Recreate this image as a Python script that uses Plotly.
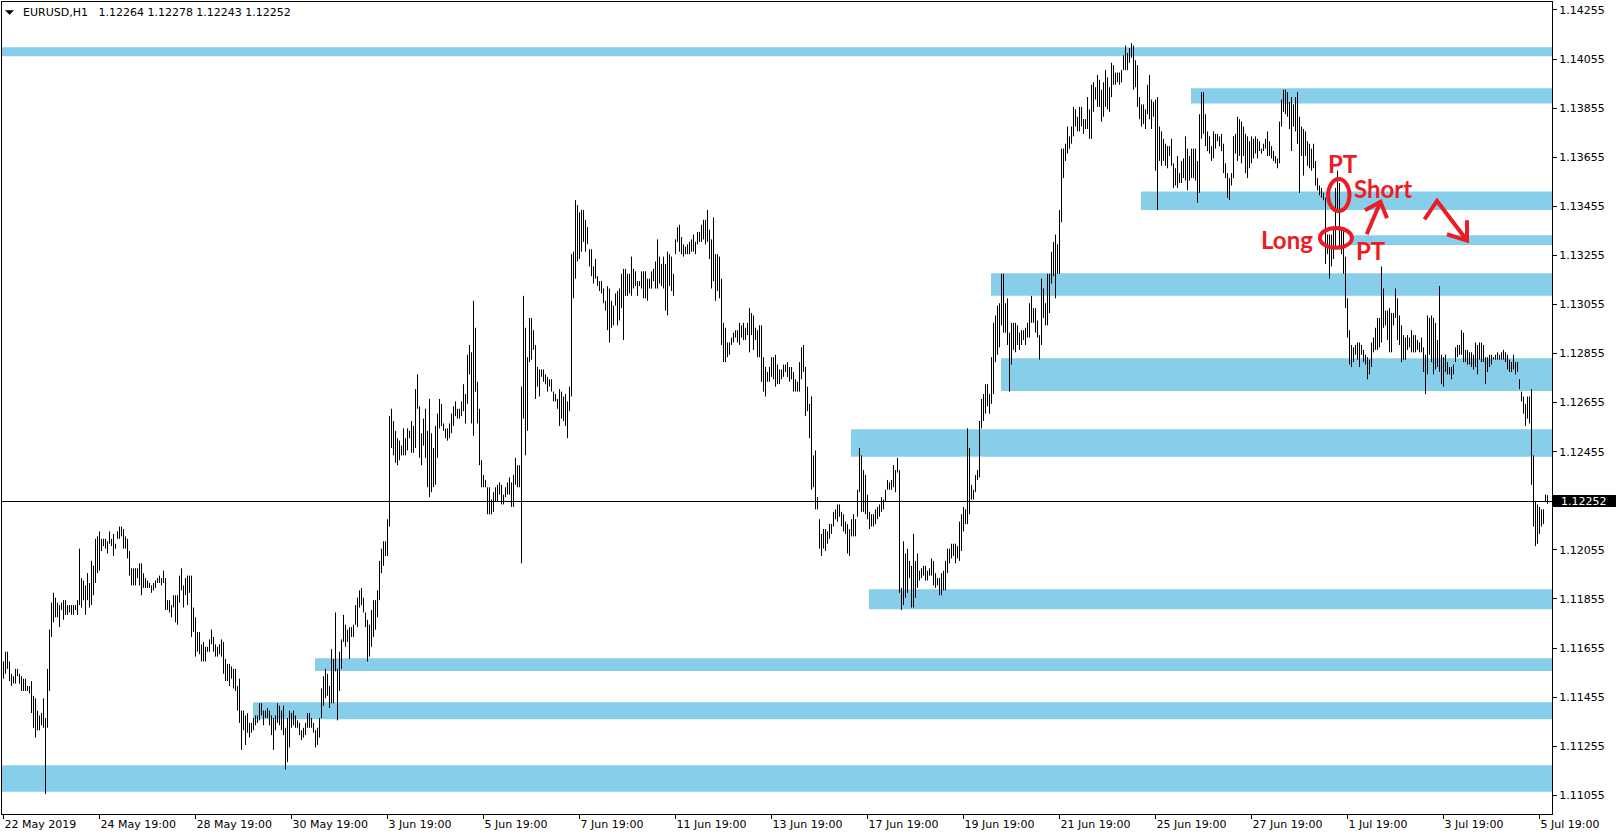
import plotly.graph_objects as go

# ---------------- data ----------------
symbol = "EURUSD,H1"
last_bar_ohlc = [1.12264, 1.12278, 1.12243, 1.12252]
bid_price = 1.12252

x_tick_bars = [0, 48, 96, 144, 192, 240, 288, 336, 384, 432, 480, 528, 576, 624, 672, 720, 768]
x_tick_labels = ["22 May 2019", "24 May 19:00", "28 May 19:00", "30 May 19:00", "3 Jun 19:00",
                 "5 Jun 19:00", "7 Jun 19:00", "11 Jun 19:00", "13 Jun 19:00", "17 Jun 19:00",
                 "19 Jun 19:00", "21 Jun 19:00", "25 Jun 19:00", "27 Jun 19:00", "1 Jul 19:00",
                 "3 Jul 19:00", "5 Jul 19:00"]
y_tick_values = [1.11055, 1.11255, 1.11455, 1.11655, 1.11855, 1.12055, 1.12455, 1.12655,
                 1.12855, 1.13055, 1.13255, 1.13455, 1.13655, 1.13855, 1.14055, 1.14255]

# hourly bars, week by week (high / low)
high_w1 = [1.1160,1.1164,1.1164,1.1160,1.1155,1.1154,1.1157,1.1157,1.1155,1.1154,
           1.1153,1.1153,1.1150,1.1150,1.1152,1.1146,1.1145,1.1140,1.1138,1.1139,
           1.1145,1.1137,1.1157,1.1173,1.1184,1.1188,1.1186,1.1184,1.1183,1.1184,
           1.1185,1.1185,1.1183,1.1183,1.1183,1.1183,1.1183,1.1185,1.1206,1.1194,
           1.1193,1.1191,1.1196,1.1192,1.1201,1.1199,1.1210,1.1211,1.1213,1.1210,
           1.1210,1.1210,1.1209]
low_w1 = [1.1153,1.1155,1.1157,1.1152,1.1150,1.1151,1.1151,1.1154,1.1151,1.1148,
          1.1148,1.1148,1.1148,1.1147,1.1139,1.1133,1.1129,1.1132,1.1132,1.1134,
          1.1133,1.1106,1.1133,1.1148,1.1170,1.1176,1.1178,1.1178,1.1174,1.1181,
          1.1177,1.1179,1.1179,1.1180,1.1179,1.1179,1.1181,1.1179,1.1183,1.1182,
          1.1185,1.1179,1.1185,1.1182,1.1183,1.1187,1.1192,1.1196,1.1197,1.1205,
          1.1207,1.1206,1.1204]

high_w2 = [1.1213,1.1210,1.1212,1.1208,1.1213,1.1215,1.1215,1.1214,1.1211,1.1210,
           1.1205,1.1198,1.1198,1.1198,1.1198,1.1200,1.1200,1.1196,1.1194,1.1193,
           1.1192,1.1191,1.1192,1.1193,1.1194,1.1195,1.1194,1.1197,1.1194,1.1185,
           1.1185,1.1183,1.1187,1.1187,1.1187,1.1195,1.1198,1.1191,1.1194,1.1195,
           1.1195,1.1195,1.1182,1.1178,1.1172,1.1172,1.1167,1.1168,1.1166,1.1166,
           1.1169,1.1173,1.1170,1.1167,1.1166,1.1167,1.1169,1.1168,1.1161,1.1159,
           1.1159,1.1158,1.1157,1.1157,1.1150,1.1153,1.1140,1.1140,1.1138,1.1139,
           1.1135,1.1135,1.1137,1.1138,1.1138,1.1143,1.1143,1.1140,1.1140,1.1141,
           1.1140,1.1138,1.1137,1.1138,1.1143,1.1142,1.1140,1.1142,1.1133,1.1137,
           1.1140,1.1139,1.1140,1.1138,1.1136,1.1135,1.1132,1.1133,1.1135,1.1139,
           1.1139,1.1137,1.1135,1.1132,1.1133,1.1137,1.1149,1.1154,1.1157,1.1155,
           1.1150,1.1165,1.1161,1.1180,1.1157,1.1164,1.1169,1.1179,1.1175,1.1173]
low_w2 = [1.1208,1.1207,1.1203,1.1206,1.1210,1.1210,1.1211,1.1206,1.1206,1.1202,
          1.1195,1.1191,1.1191,1.1191,1.1194,1.1191,1.1187,1.1190,1.1190,1.1190,
          1.1190,1.1188,1.1189,1.1190,1.1192,1.1192,1.1191,1.1192,1.1181,1.1181,
          1.1180,1.1178,1.1182,1.1176,1.1175,1.1184,1.1189,1.1182,1.1187,1.1183,
          1.1188,1.1170,1.1172,1.1162,1.1164,1.1163,1.1160,1.1160,1.1160,1.1164,
          1.1164,1.1167,1.1164,1.1162,1.1162,1.1163,1.1162,1.1155,1.1152,1.1152,
          1.1150,1.1153,1.1149,1.1148,1.1140,1.1135,1.1124,1.1132,1.1126,1.1131,
          1.1129,1.1131,1.1132,1.1134,1.1135,1.1136,1.1138,1.1134,1.1137,1.1137,
          1.1134,1.1130,1.1124,1.1132,1.1135,1.1134,1.1132,1.1130,1.1116,1.1119,
          1.1125,1.1133,1.1134,1.1133,1.1133,1.1130,1.1128,1.1129,1.1130,1.1133,
          1.1133,1.1133,1.1131,1.1125,1.1126,1.1129,1.1137,1.1142,1.1145,1.1146,
          1.1141,1.1143,1.1143,1.1156,1.1136,1.1148,1.1157,1.1168,1.1166,1.1168]

high_w3 = [1.1174,1.1174,1.1175,1.1183,1.1186,1.1189,1.1190,1.1186,1.1180,1.1177,
           1.1175,1.1181,1.1185,1.1185,1.1189,1.1201,1.1206,1.1209,1.1209,1.1218,
           1.1260,1.1263,1.1258,1.1254,1.1251,1.1250,1.1248,1.1255,1.1251,1.1255,
           1.1254,1.1258,1.1256,1.1271,1.1277,1.1264,1.1253,1.1259,1.1263,1.1254,
           1.1267,1.1253,1.1247,1.1256,1.1261,1.1267,1.1265,1.1257,1.1255,1.1255,
           1.1257,1.1261,1.1264,1.1266,1.1263,1.1263,1.1266,1.1273,1.1269,1.1285,
           1.1289,1.1286,1.1307,1.1296,1.1274,1.1263,1.1242,1.1236,1.1234,1.1231,
           1.1231,1.1226,1.1229,1.1231,1.1232,1.1233,1.1232,1.1228,1.1231,1.1233,
           1.1235,1.1233,1.1236,1.1243,1.1240,1.1240,1.1272,1.1309,1.1296,1.1284,
           1.1300,1.1300,1.1295,1.1289,1.1280,1.1279,1.1279,1.1279,1.1277,1.1276,
           1.1275,1.1275,1.1270,1.1269,1.1267,1.1271,1.1270,1.1268,1.1269,1.1266,
           1.1272,1.1326,1.1327,1.1348,1.1346,1.1343,1.1344,1.1344,1.1340,1.1337]
low_w3 = [1.1161,1.1170,1.1170,1.1175,1.1174,1.1182,1.1183,1.1180,1.1174,1.1160,
          1.1162,1.1166,1.1170,1.1173,1.1178,1.1185,1.1196,1.1199,1.1203,1.1203,
          1.1215,1.1247,1.1244,1.1241,1.1240,1.1242,1.1244,1.1244,1.1244,1.1246,
          1.1251,1.1245,1.1245,1.1247,1.1263,1.1243,1.1240,1.1248,1.1243,1.1231,
          1.1227,1.1229,1.1231,1.1232,1.1243,1.1255,1.1256,1.1254,1.1251,1.1250,
          1.1251,1.1253,1.1256,1.1260,1.1259,1.1259,1.1260,1.1262,1.1257,1.1265,
          1.1277,1.1257,1.1252,1.1270,1.1257,1.1240,1.1231,1.1231,1.1231,1.1220,
          1.1220,1.1220,1.1221,1.1225,1.1225,1.1228,1.1224,1.1224,1.1227,1.1228,
          1.1228,1.1223,1.1223,1.1232,1.1231,1.1231,1.1200,1.1259,1.1244,1.1254,
          1.1282,1.1283,1.1287,1.1267,1.1272,1.1268,1.1276,1.1274,1.1273,1.1270,
          1.1272,1.1270,1.1266,1.1266,1.1263,1.1256,1.1259,1.1258,1.1256,1.1251,
          1.1262,1.1268,1.1308,1.1316,1.1323,1.1324,1.1327,1.1331,1.1327,1.1330]

high_w4 = [1.1328,1.1328,1.1321,1.1324,1.1317,1.1315,1.1315,1.1312,1.1307,1.1313,
           1.1312,1.1307,1.1305,1.1310,1.1311,1.1312,1.1318,1.1320,1.1320,1.1318,
           1.1318,1.1325,1.1320,1.1319,1.1315,1.1315,1.1319,1.1319,1.1319,1.1316,
           1.1316,1.1319,1.1320,1.1323,1.1332,1.1325,1.1322,1.1325,1.1322,1.1327,
           1.1326,1.1325,1.1318,1.1332,1.1337,1.1338,1.1333,1.1330,1.1329,1.1330,
           1.1331,1.1332,1.1334,1.1331,1.1335,1.1335,1.1338,1.1340,1.1340,1.1344,
           1.1336,1.1332,1.1341,1.1326,1.1326,1.1325,1.1316,1.1298,1.1296,1.1290,
           1.1290,1.1292,1.1294,1.1295,1.1295,1.1298,1.1297,1.1298,1.1296,1.1298,
           1.1304,1.1302,1.1301,1.1296,1.1295,1.1297,1.1297,1.1284,1.1280,1.1278,
           1.1280,1.1284,1.1284,1.1285,1.1281,1.1279,1.1279,1.1281,1.1281,1.1282,
           1.1280,1.1280,1.1278,1.1275,1.1274,1.1282,1.1288,1.1289,1.1280,1.1272,
           1.1265,1.1268,1.1244,1.1246,1.1227,1.1218,1.1212,1.1214,1.1214,1.1213]
low_w4 = [1.1321,1.1317,1.1314,1.1316,1.1313,1.1311,1.1310,1.1306,1.1303,1.1295,
          1.1290,1.1296,1.1297,1.1305,1.1297,1.1299,1.1304,1.1291,1.1309,1.1309,
          1.1310,1.1309,1.1312,1.1313,1.1309,1.1313,1.1312,1.1308,1.1308,1.1307,
          1.1312,1.1312,1.1315,1.1312,1.1312,1.1314,1.1313,1.1312,1.1303,1.1301,
          1.1313,1.1311,1.1309,1.1326,1.1331,1.1327,1.1326,1.1325,1.1326,1.1326,
          1.1326,1.1327,1.1327,1.1326,1.1330,1.1331,1.1331,1.1332,1.1330,1.1331,
          1.1324,1.1312,1.1315,1.1307,1.1311,1.1308,1.1289,1.1282,1.1282,1.1284,
          1.1285,1.1289,1.1290,1.1292,1.1290,1.1289,1.1292,1.1291,1.1291,1.1293,
          1.1286,1.1293,1.1287,1.1291,1.1284,1.1284,1.1274,1.1270,1.1268,1.1274,
          1.1274,1.1276,1.1275,1.1272,1.1273,1.1273,1.1275,1.1276,1.1278,1.1276,
          1.1274,1.1275,1.1270,1.1270,1.1270,1.1270,1.1275,1.1278,1.1260,1.1262,
          1.1251,1.1230,1.1231,1.1222,1.1222,1.1206,1.1203,1.1206,1.1205,1.1208]

high_w5 = [1.1216,1.1216,1.1221,1.1222,1.1224,1.1224,1.1221,1.1220,1.1217,1.1216,
           1.1214,1.1218,1.1220,1.1218,1.1230,1.1247,1.1244,1.1238,1.1236,1.1228,
           1.1221,1.1220,1.1220,1.1222,1.1223,1.1224,1.1227,1.1226,1.1230,1.1234,
           1.1233,1.1234,1.1240,1.1238,1.1243,1.1238,1.1190,1.1209,1.1204,1.1206,
           1.1201,1.1199,1.1212,1.1201,1.1204,1.1197,1.1198,1.1199,1.1199,1.1197,
           1.1198,1.1202,1.1201,1.1196,1.1194,1.1194,1.1196,1.1197,1.1201,1.1206,
           1.1206,1.1208,1.1208,1.1208,1.1207,1.1217,1.1220,1.1223,1.1222,1.1255,
           1.1247,1.1232,1.1230,1.1236,1.1238,1.1258,1.1267,1.1269,1.1273,1.1273,
           1.1269,1.1284,1.1298,1.1301,1.1305,1.1306,1.1318,1.1318,1.1306,1.1308,
           1.1294,1.1298,1.1298,1.1298,1.1297,1.1294,1.1295,1.1295,1.1296,1.1298,
           1.1306,1.1309,1.1304,1.1304,1.1299,1.1293,1.1316,1.1312,1.1306,1.1318,
           1.1318,1.1327,1.1331,1.1334,1.1330,1.1344,1.1369,1.1369,1.1371,1.1378]
low_w5 = [1.1210,1.1212,1.1215,1.1218,1.1217,1.1219,1.1215,1.1213,1.1212,1.1204,
          1.1203,1.1211,1.1211,1.1211,1.1219,1.1229,1.1221,1.1221,1.1220,1.1218,
          1.1214,1.1215,1.1215,1.1216,1.1218,1.1219,1.1221,1.1222,1.1225,1.1230,
          1.1230,1.1230,1.1231,1.1229,1.1237,1.1188,1.1181,1.1183,1.1186,1.1188,
          1.1194,1.1182,1.1182,1.1186,1.1190,1.1193,1.1194,1.1195,1.1193,1.1193,
          1.1195,1.1195,1.1191,1.1190,1.1191,1.1187,1.1187,1.1189,1.1189,1.1196,
          1.1200,1.1202,1.1203,1.1200,1.1202,1.1201,1.1205,1.1213,1.1216,1.1216,
          1.1220,1.1226,1.1226,1.1229,1.1234,1.1235,1.1255,1.1258,1.1261,1.1264,
          1.1261,1.1265,1.1269,1.1282,1.1285,1.1288,1.1297,1.1294,1.1294,1.1289,
          1.1270,1.1281,1.1287,1.1286,1.1289,1.1287,1.1289,1.1291,1.1289,1.1292,
          1.1292,1.1298,1.1298,1.1294,1.1292,1.1283,1.1289,1.1300,1.1297,1.1297,
          1.1302,1.1314,1.1317,1.1308,1.1318,1.1318,1.1339,1.1357,1.1364,1.1367]

high_w6 = [1.1374,1.1378,1.1386,1.1385,1.1382,1.1386,1.1386,1.1381,1.1381,1.1390,
           1.1385,1.1395,1.1396,1.1394,1.1399,1.1397,1.1393,1.1396,1.1401,1.1398,
           1.1394,1.1404,1.1403,1.1400,1.1400,1.1400,1.1401,1.1407,1.1411,1.1408,
           1.1410,1.1412,1.1411,1.1405,1.1403,1.1390,1.1387,1.1387,1.1385,1.1395,
           1.1399,1.1389,1.1388,1.1389,1.1390,1.1378,1.1376,1.1373,1.1371,1.1370,
           1.1370,1.1373,1.1363,1.1361,1.1366,1.1359,1.1364,1.1365,1.1374,1.1369,
           1.1366,1.1369,1.1369,1.1369,1.1364,1.1383,1.1392,1.1392,1.1383,1.1376,
           1.1374,1.1370,1.1376,1.1375,1.1375,1.1374,1.1375,1.1371,1.1363,1.1359,
           1.1357,1.1359,1.1374,1.1375,1.1382,1.1381,1.1380,1.1378,1.1375,1.1374,
           1.1372,1.1374,1.1373,1.1374,1.1373,1.1372,1.1369,1.1371,1.1373,1.1376,
           1.1372,1.1370,1.1368,1.1366,1.1365,1.1380,1.1389,1.1393,1.1393,1.1392,
           1.1388,1.1390,1.1387,1.1390,1.1392,1.1382,1.1378,1.1377,1.1376,1.1372]
low_w6 = [1.1369,1.1371,1.1374,1.1378,1.1376,1.1376,1.1378,1.1375,1.1377,1.1377,
          1.1373,1.1373,1.1384,1.1389,1.1386,1.1386,1.1380,1.1382,1.1386,1.1385,
          1.1384,1.1390,1.1395,1.1395,1.1396,1.1395,1.1396,1.1401,1.1401,1.1401,
          1.1404,1.1406,1.1393,1.1394,1.1386,1.1381,1.1378,1.1379,1.1377,1.1383,
          1.1381,1.1377,1.1382,1.1360,1.1344,1.1364,1.1362,1.1364,1.1362,1.1361,
          1.1366,1.1362,1.1353,1.1354,1.1353,1.1355,1.1355,1.1357,1.1356,1.1352,
          1.1356,1.1357,1.1357,1.1356,1.1347,1.1351,1.1373,1.1375,1.1370,1.1368,
          1.1367,1.1364,1.1365,1.1369,1.1372,1.1370,1.1368,1.1359,1.1357,1.1349,
          1.1348,1.1354,1.1357,1.1367,1.1364,1.1366,1.1363,1.1366,1.1359,1.1357,
          1.1361,1.1363,1.1365,1.1367,1.1365,1.1368,1.1367,1.1368,1.1369,1.1366,
          1.1366,1.1365,1.1364,1.1363,1.1361,1.1363,1.1378,1.1384,1.1383,1.1382,
          1.1377,1.1368,1.1378,1.1376,1.1371,1.1351,1.1366,1.1358,1.1366,1.1362]

high_w7 = [1.1371,1.1369,1.1371,1.1364,1.1357,1.1354,1.1353,1.1351,1.1349,1.1334,
           1.1334,1.1334,1.1337,1.1353,1.1360,1.1355,1.1337,1.1336,1.1325,1.1308,
           1.1295,1.1289,1.1288,1.1289,1.1290,1.1290,1.1289,1.1287,1.1285,1.1284,
           1.1283,1.1290,1.1292,1.1296,1.1300,1.1300,1.1321,1.1312,1.1303,1.1303,
           1.1304,1.1302,1.1302,1.1312,1.1308,1.1301,1.1297,1.1293,1.1292,1.1293,
           1.1292,1.1295,1.1293,1.1293,1.1291,1.1290,1.1292,1.1288,1.1285,1.1301,
           1.1300,1.1301,1.1300,1.1298,1.1291,1.1313,1.1285,1.1284,1.1285,1.1282,
           1.1280,1.1280,1.1281,1.1288,1.1289,1.1289,1.1295,1.1294,1.1287,1.1287,
           1.1286,1.1286,1.1285,1.1290,1.1289,1.1290,1.1290,1.1289,1.1284,1.1284,
           1.1285,1.1285,1.1284,1.1285,1.1286,1.1285,1.1286,1.1287,1.1286,1.1285,
           1.1283,1.1282,1.1285,1.1282,1.1282,1.1275,1.1270,1.1268,1.1265,1.1268,
           1.1268,1.1271,1.1244,1.1225,1.1224,1.1223,1.1222,1.1222,1.1228,1.12278]
low_w7 = [1.1361,1.1360,1.1361,1.1354,1.1352,1.1350,1.1349,1.1348,1.1322,1.1326,
          1.1316,1.1321,1.1324,1.1328,1.1344,1.1328,1.1326,1.1318,1.1304,1.1292,
          1.1281,1.1280,1.1282,1.1285,1.1283,1.1280,1.1285,1.1282,1.1281,1.1275,
          1.1277,1.1280,1.1286,1.1287,1.1287,1.1288,1.1290,1.1296,1.1297,1.1291,
          1.1286,1.1286,1.1297,1.1300,1.1291,1.1289,1.1282,1.1283,1.1283,1.1287,
          1.1288,1.1286,1.1286,1.1286,1.1287,1.1286,1.1286,1.1278,1.1269,1.1277,
          1.1285,1.1282,1.1277,1.1279,1.1280,1.1278,1.1273,1.1272,1.1278,1.1277,
          1.1277,1.1275,1.1277,1.1282,1.1284,1.1285,1.1285,1.1282,1.1282,1.1281,
          1.1281,1.1280,1.1279,1.1280,1.1277,1.1283,1.1282,1.1282,1.1273,1.1278,
          1.1280,1.1281,1.1283,1.1283,1.1283,1.1283,1.1283,1.1283,1.1282,1.1279,
          1.1278,1.1278,1.1279,1.1277,1.1278,1.1271,1.1266,1.1261,1.1256,1.1259,
          1.1257,1.1232,1.1215,1.1207,1.1208,1.1212,1.1215,1.1216,1.1225,1.12243]

# support / resistance zones (start bar, lower price, upper price)
zone_start = [0, 593.75, 568.75, 673.25, 493.75, 498.75, 423.75, 432.75, 155.75, 124.75, 0]
zone_low = [1.14066, 1.13874, 1.13440, 1.13297, 1.13090, 1.12702, 1.12434, 1.11813, 1.11561, 1.11365, 1.11069]
zone_high = [1.14103, 1.13936, 1.13515, 1.13337, 1.13182, 1.12836, 1.12546, 1.11894, 1.11613, 1.11434, 1.11177]

# ---------------- figure ----------------
highs = high_w1 + high_w2 + high_w3 + high_w4 + high_w5 + high_w6 + high_w7
lows = low_w1 + low_w2 + low_w3 + low_w4 + low_w5 + low_w6 + low_w7

X_MIN, X_MAX = -0.75, 774.25
Y_MIN, Y_MAX = 1.109786, 1.142875
RED = "#ED1C24"
SKY = "#87CEEB"
FONT = "DejaVu Sans"

xs, ys = [], []
for b, (h, l) in enumerate(zip(highs, lows)):
    xs += [b, b, None]
    ys += [l, h, None]

fig = go.Figure()
fig.add_trace(go.Scatter(x=xs, y=ys, mode="lines", line=dict(color="black", width=1),
                         hoverinfo="skip", showlegend=False))

for s, lo, hi in zip(zone_start, zone_low, zone_high):
    fig.add_shape(type="rect", xref="x", yref="y", x0=(X_MIN if s == 0 else s), x1=X_MAX,
                  y0=lo, y1=hi, fillcolor=SKY, line=dict(width=0), layer="below")

# bid line
fig.add_shape(type="line", xref="paper", x0=0, x1=1, yref="y", y0=bid_price, y1=bid_price,
              line=dict(color="black", width=1), layer="below")

# hand drawn marks
fig.add_shape(type="circle", xref="x", yref="y", x0=662.3, x1=673.0, y0=1.134355, y1=1.135659,
              line=dict(color=RED, width=4), layer="above")
fig.add_shape(type="circle", xref="x", yref="y", x0=658.2, x1=674.2, y0=1.132860, y1=1.133663,
              line=dict(color=RED, width=4), layer="above")
arrow_paths = [
    "M 681.6,1.133410 L 688.5,1.134734",
    "M 680.75,1.134388 L 688.5,1.134734 L 691.75,1.134062",
    "M 710.5,1.134021 L 716.75,1.134767 L 731.75,1.133153",
    "M 721.75,1.133410 L 731.75,1.133153 L 731.75,1.133980",
]
for p in arrow_paths:
    fig.add_shape(type="path", xref="x", yref="y", path=p,
                  line=dict(color=RED, width=4), layer="above")

marks = [
    ("PT", 669.75, 1.136291, "center"),
    ("Short", 674.1, 1.135256, "left"),
    ("Long", 655.75, 1.133178, "right"),
    ("PT", 683.65, 1.132758, "center"),
]
for txt, mx, my, anc in marks:
    fig.add_annotation(x=mx, y=my, xref="x", yref="y", text="<b>%s</b>" % txt, showarrow=False,
                       xanchor=anc, yanchor="middle",
                       font=dict(family="Lato", size=24, color=RED))

# current price label on the scale
fig.add_shape(type="rect", xref="paper", yref="paper", x0=1.00065, x1=1.05, y0=0.37808, y1=0.39286,
              fillcolor="black", line=dict(width=0), layer="above")
fig.add_annotation(x=1.00452, y=bid_price, xref="paper", yref="y", text="%.5f" % bid_price,
                   showarrow=False, xanchor="left", yanchor="middle",
                   font=dict(family=FONT, size=11, color="white"))

# header
fig.add_shape(type="path", xref="paper", yref="paper",
              path="M 0.00226,0.98953 L 0.00742,0.98953 L 0.00484,0.98461 Z",
              fillcolor="black", line=dict(color="black", width=0.5))
header = symbol + "\u00a0\u00a0 " + " ".join("%.5f" % v for v in last_bar_ohlc)
fig.add_annotation(x=0.0122, y=0.98707, xref="paper", yref="paper", text=header, showarrow=False,
                   xanchor="left", yanchor="middle", font=dict(family=FONT, size=11, color="black"))

fig.update_layout(
    width=1616, height=838, autosize=False,
    margin=dict(l=2, r=64, t=2, b=24),
    paper_bgcolor="white", plot_bgcolor="white", showlegend=False,
    xaxis=dict(range=[X_MIN, X_MAX], showgrid=False, zeroline=False, showline=True,
               linecolor="black", linewidth=1, mirror=True, ticks="outside", ticklen=4,
               tickcolor="black", tickwidth=1, tickvals=x_tick_bars, ticktext=x_tick_labels,
               ticklabelposition="outside right", automargin=False,
               tickfont=dict(family=FONT, size=11, color="black"), fixedrange=True),
    yaxis=dict(range=[Y_MIN, Y_MAX], side="right", showgrid=False, zeroline=False, showline=True,
               linecolor="black", linewidth=1, mirror=True, ticks="outside", ticklen=4,
               tickcolor="black", tickwidth=1, tickvals=y_tick_values,
               ticktext=["%.5f" % v for v in y_tick_values], automargin=False,
               tickfont=dict(family=FONT, size=11, color="black"), fixedrange=True),
)

fig.write_html("out.html", config={"displayModeBar": False},
               post_script="document.body.style.margin='0px';document.body.style.overflow='hidden';")
